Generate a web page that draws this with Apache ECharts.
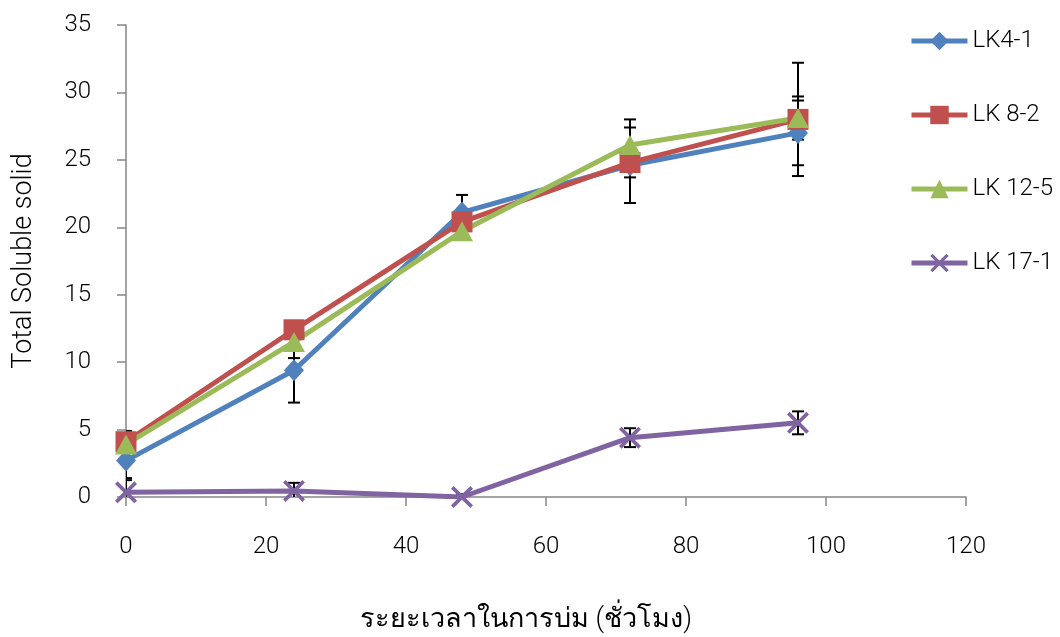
<!DOCTYPE html>
<html>
<head>
<meta charset="utf-8">
<script src="https://cdn.jsdelivr.net/npm/echarts@6/dist/echarts.min.js"></script>
<style>
html,body{margin:0;padding:0;background:#fff;}
#chart{width:1060px;height:637px;}
</style>
</head>
<body>
<div id="chart"></div>
<script>
const hours = [0, 24, 48, 72, 96];
const seriesNames = ['LK4-1', 'LK 8-2', 'LK 12-5', 'LK 17-1'];
const lk41 = [2.7, 9.4, 21.1, 24.6, 27.0];
const lk82 = [4.1, 12.4, 20.4, 24.8, 28.0];
const lk125 = [3.9, 11.5, 19.7, 26.1, 28.1];
const lk171 = [0.35, 0.45, 0.0, 4.4, 5.5];
const lk41Err = [1.3, 2.4, 1.3, 2.8, 2.4];
const lk82Err = [0.8, 0.5, 0.8, 1.1, 4.2];
const lk125Err = [0.6, 1.2, 0.6, 1.9, 1.6];
const lk171Err = [0.9, 0.6, 0.2, 0.7, 0.85];
const xTicks = [0, 20, 40, 60, 80, 100, 120];
const yTicks = [0, 5, 10, 15, 20, 25, 30, 35];

const FONT = 'Roboto, "Liberation Sans", "DejaVu Sans", sans-serif';
const FW = 300;
const colors = ['#4F81BD', '#C0504D', '#9BBB59', '#8064A2'];
const values = [lk41, lk82, lk125, lk171];
const errs = [lk41Err, lk82Err, lk125Err, lk171Err];
const symbols = ['diamond', 'rect', 'triangle',
  'path://M0,1.2L1.2,0L5,3.8L8.8,0L10,1.2L6.2,5L10,8.8L8.8,10L5,6.2L1.2,10L0,8.8L3.8,5Z'];
const symbolSizes = [[20, 22], 21, [22, 20], 22];

const lineSeries = seriesNames.map((name, i) => ({
  name: name,
  type: 'line',
  data: hours.map((h, j) => [h, values[i][j]]),
  symbol: symbols[i],
  symbolSize: symbolSizes[i],
  showAllSymbol: true,
  color: colors[i],
  lineStyle: { width: 5, color: colors[i] },
  itemStyle: { color: colors[i] },
  z: 3
}));

const errData = [];
values.forEach((vals, i) => {
  vals.forEach((v, j) => errData.push([hours[j], v - errs[i][j], v + errs[i][j]]));
});

const errSeries = {
  type: 'custom',
  name: 'err',
  clip: true,
  z: 2,
  silent: true,
  data: errData,
  renderItem: function (params, api) {
    const x = api.value(0);
    const lo = api.coord([x, api.value(1)]);
    const hi = api.coord([x, api.value(2)]);
    const hw = 6;
    const style = { stroke: '#000', lineWidth: 2 };
    return {
      type: 'group',
      children: [
        { type: 'line', shape: { x1: lo[0], y1: lo[1], x2: hi[0], y2: hi[1] }, style: style },
        { type: 'line', shape: { x1: lo[0] - hw, y1: lo[1], x2: lo[0] + hw, y2: lo[1] }, style: style },
        { type: 'line', shape: { x1: hi[0] - hw, y1: hi[1], x2: hi[0] + hw, y2: hi[1] }, style: style }
      ]
    };
  }
};

const chart = echarts.init(document.getElementById('chart'), null, { renderer: 'canvas' });
chart.setOption({
  animation: false,
  backgroundColor: '#fff',
  textStyle: { fontFamily: FONT, fontWeight: FW },
  grid: { left: 126, right: 94, top: 25, bottom: 140, containLabel: false, outerBoundsMode: 'none' },
  legend: {
    orient: 'vertical',
    left: 904,
    top: 24,
    itemWidth: 56,
    itemHeight: 23,
    itemGap: 50,
    data: seriesNames,
    lineStyle: { width: 5 },
    textStyle: { fontSize: 24, color: '#000', fontFamily: FONT, fontWeight: FW }
  },
  xAxis: {
    type: 'value',
    min: xTicks[0],
    max: xTicks[xTicks.length - 1],
    interval: 20,
    name: 'ระยะเวลาในการบ่ม (ชั่วโมง)',
    nameLocation: 'middle',
    nameGap: 110,
    nameTextStyle: { fontSize: 27, color: '#000', fontFamily: FONT, fontWeight: FW, padding: [0, 40, 0, 0] },
    axisLine: { show: true, lineStyle: { color: '#868686', width: 1.5 } },
    axisTick: { show: true, inside: false, length: 9, lineStyle: { color: '#868686', width: 1.5 } },
    axisLabel: { fontSize: 24, color: '#000', margin: 38, fontFamily: FONT, fontWeight: FW },
    splitLine: { show: false }
  },
  yAxis: {
    type: 'value',
    min: yTicks[0],
    max: yTicks[yTicks.length - 1],
    interval: 5,
    name: 'Total Soluble solid',
    nameLocation: 'middle',
    nameGap: 88,
    nameTextStyle: { fontSize: 27, color: '#000', fontFamily: FONT, fontWeight: FW },
    axisLine: { show: true, lineStyle: { color: '#868686', width: 1.5 } },
    axisTick: { show: true, inside: false, length: 9, lineStyle: { color: '#868686', width: 1.5 } },
    axisLabel: { fontSize: 24, color: '#000', margin: 35, fontFamily: FONT, fontWeight: FW },
    splitLine: { show: false }
  },
  series: [errSeries].concat(lineSeries)
});
</script>
</body>
</html>
